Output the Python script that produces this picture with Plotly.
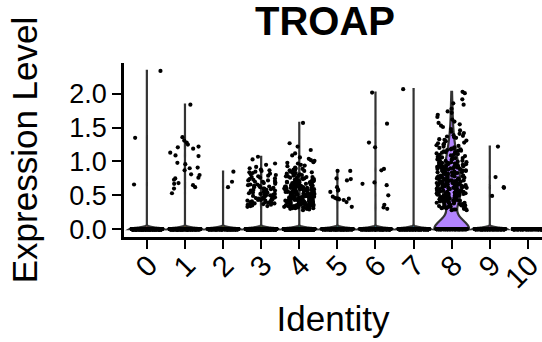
import numpy as np
import plotly.graph_objects as go

# ---------------- data ----------------
identities = ["0", "1", "2", "3", "4", "5", "6", "7", "8", "9", "10"]
gene = "TROAP"

# number of cells with zero expression in each identity (estimated)
zero_counts = [600, 500, 400, 800, 1500, 400, 400, 400, 185, 300, 250]

# non-zero expression values per identity
c0_nz = [2.34, 1.35, 0.66]
c1_nz = [1.84, 1.36, 1.31, 1.28, 1.25, 1.22, 1.21, 1.19, 1.13, 1.09, 1.08, 0.98, 0.96,
         0.91, 0.90, 0.87, 0.81, 0.80, 0.76, 0.75, 0.73, 0.68, 0.67, 0.65, 0.62, 0.60, 0.53]
c2_nz = [0.85, 0.70, 0.62]
c3_nz = [1.07, 1.03, 0.97, 0.95, 0.92, 0.90, 0.88, 0.87, 0.86, 0.85, 0.84, 0.83, 0.82,
         0.81, 0.80, 0.79, 0.78, 0.77, 0.76, 0.75, 0.74, 0.73, 0.72, 0.72, 0.71, 0.70,
         0.70, 0.69, 0.68, 0.67, 0.66, 0.66, 0.65, 0.64, 0.64, 0.63, 0.62, 0.62, 0.61,
         0.60, 0.60, 0.59, 0.58, 0.58, 0.57, 0.57, 0.56, 0.55, 0.55, 0.54, 0.54, 0.53,
         0.52, 0.52, 0.51, 0.51, 0.50, 0.50, 0.49, 0.48, 0.48, 0.47, 0.47, 0.46, 0.46,
         0.45, 0.45, 0.44, 0.44, 0.43, 0.43, 0.42, 0.42, 0.41, 0.41, 0.40, 0.40, 0.39,
         0.39, 0.38, 0.38, 0.37, 0.37, 0.36, 0.36, 0.35, 0.35, 0.34, 0.34, 0.33]
c4_nz = [1.57, 1.27, 1.22, 1.17, 1.12, 1.09, 1.06, 1.04, 1.02, 1.01,
         0.99, 0.98, 0.97, 0.95, 0.94, 0.93, 0.91, 0.90,
         0.89, 0.88, 0.88, 0.87, 0.86, 0.86, 0.85, 0.84, 0.83, 0.83, 0.82, 0.81, 0.81, 0.80,
         0.79, 0.79, 0.78, 0.78, 0.77, 0.77, 0.76, 0.76, 0.75, 0.75, 0.74, 0.74, 0.73,
         0.73, 0.72, 0.72, 0.71, 0.71, 0.71, 0.70, 0.70, 0.70,
         0.69, 0.69, 0.69, 0.68, 0.68, 0.68, 0.67, 0.67, 0.67, 0.66, 0.66, 0.66, 0.65,
         0.65, 0.65, 0.64, 0.64, 0.64, 0.63, 0.63, 0.63, 0.62, 0.62, 0.62, 0.61, 0.61,
         0.61, 0.60, 0.60, 0.60,
         0.59, 0.59, 0.59, 0.59, 0.58, 0.58, 0.58, 0.58, 0.58, 0.57, 0.57, 0.57, 0.57,
         0.56, 0.56, 0.56, 0.56, 0.55, 0.55, 0.55, 0.55, 0.55, 0.54, 0.54, 0.54, 0.54,
         0.53, 0.53, 0.53, 0.53, 0.53, 0.52, 0.52, 0.52, 0.52, 0.52, 0.51, 0.51, 0.51,
         0.51, 0.51, 0.50, 0.50, 0.50, 0.50,
         0.49, 0.49, 0.49, 0.49, 0.49, 0.48, 0.48, 0.48, 0.48, 0.48, 0.48, 0.47, 0.47,
         0.47, 0.47, 0.47, 0.46, 0.46, 0.46, 0.46, 0.46, 0.46, 0.45, 0.45, 0.45, 0.45,
         0.45, 0.44, 0.44, 0.44, 0.44, 0.44, 0.44, 0.43, 0.43, 0.43, 0.43, 0.43, 0.42,
         0.42, 0.42, 0.42, 0.42, 0.42, 0.41, 0.41, 0.41, 0.41, 0.41, 0.41, 0.40, 0.40,
         0.40, 0.40, 0.40,
         0.39, 0.39, 0.39, 0.39, 0.38, 0.38, 0.38, 0.38, 0.37, 0.37, 0.37, 0.37, 0.36,
         0.36, 0.36, 0.36, 0.35, 0.35, 0.35, 0.35, 0.34, 0.34, 0.34, 0.34, 0.33, 0.33,
         0.33, 0.33, 0.32, 0.32, 0.32, 0.32, 0.31, 0.31, 0.31, 0.30, 0.30, 0.30, 0.29, 0.28]
c5_nz = [0.86, 0.86, 0.75, 0.74, 0.72, 0.62, 0.58, 0.57, 0.55, 0.48, 0.46, 0.45, 0.45,
         0.45, 0.44, 0.43, 0.40, 0.33]
c6_nz = [2.02, 1.56, 1.28, 1.21, 0.89, 0.87, 0.69, 0.67, 0.65, 0.50, 0.36, 0.32, 0.30]
c7_nz = [2.07]
c8_nz = [2.03, 2.01, 1.92, 1.86, 1.84,
         1.78, 1.74, 1.72, 1.69, 1.66, 1.62,
         1.59, 1.57, 1.55, 1.53, 1.51, 1.48, 1.46, 1.44, 1.42, 1.41,
         1.39, 1.38, 1.37, 1.36, 1.35, 1.33, 1.32, 1.31, 1.30, 1.28, 1.27, 1.26, 1.25,
         1.24, 1.23, 1.22, 1.21, 1.20,
         1.19, 1.19, 1.18, 1.18, 1.17, 1.16, 1.16, 1.15, 1.14, 1.14, 1.13, 1.12, 1.12,
         1.11, 1.10, 1.10, 1.09, 1.08, 1.08, 1.07, 1.06, 1.06, 1.05, 1.05, 1.04, 1.03,
         1.03, 1.02, 1.02, 1.01, 1.01, 1.00,
         0.99, 0.99, 0.98, 0.98, 0.98, 0.97, 0.97, 0.96, 0.96, 0.96, 0.95, 0.95, 0.94,
         0.94, 0.94, 0.93, 0.93, 0.92, 0.92, 0.92, 0.91, 0.91, 0.90, 0.90, 0.90, 0.89,
         0.89, 0.88, 0.88, 0.88, 0.87, 0.87, 0.86, 0.86, 0.86, 0.85, 0.85, 0.84, 0.84,
         0.84, 0.83, 0.83, 0.82, 0.82, 0.82, 0.81, 0.81, 0.80, 0.80,
         0.79, 0.79, 0.79, 0.78, 0.78, 0.78, 0.77, 0.77, 0.77, 0.76, 0.76, 0.76, 0.75,
         0.75, 0.75, 0.74, 0.74, 0.74, 0.73, 0.73, 0.73, 0.72, 0.72, 0.72, 0.71, 0.71,
         0.71, 0.70, 0.70, 0.70, 0.69, 0.69, 0.69, 0.68, 0.68, 0.68, 0.67, 0.67, 0.67,
         0.66, 0.66, 0.66, 0.65, 0.65, 0.65, 0.64, 0.64, 0.64, 0.63, 0.63, 0.63, 0.62,
         0.62, 0.62, 0.61, 0.61, 0.61, 0.60, 0.60, 0.60,
         0.59, 0.59, 0.59, 0.58, 0.58, 0.58, 0.57, 0.57, 0.57, 0.56, 0.56, 0.56, 0.55,
         0.55, 0.55, 0.54, 0.54, 0.54, 0.53, 0.53, 0.53, 0.52, 0.52, 0.52, 0.51, 0.51,
         0.51, 0.50, 0.50, 0.50, 0.49, 0.49, 0.49, 0.48, 0.48, 0.48, 0.47, 0.47, 0.47,
         0.46, 0.46, 0.46, 0.45, 0.45, 0.45, 0.44, 0.44, 0.44, 0.43, 0.43, 0.43, 0.42,
         0.42, 0.42, 0.41, 0.41, 0.41, 0.40, 0.40, 0.40, 0.47, 0.52,
         0.39, 0.39, 0.38, 0.38, 0.37, 0.37, 0.36, 0.36, 0.35, 0.35, 0.34, 0.34, 0.33,
         0.33, 0.32, 0.32, 0.31, 0.31, 0.30, 0.30, 0.29, 0.29, 0.28, 0.28]
c9_nz = [1.22, 0.77, 0.62, 0.61, 0.49]
c10_nz = []

nonzero_values = [c0_nz, c1_nz, c2_nz, c3_nz, c4_nz, c5_nz, c6_nz, c7_nz, c8_nz, c9_nz, c10_nz]

# ---------------- style ----------------
fill_colors = ["#F8766D", "#DB8E00", "#AEA200", "#64B200", "#00BD5C", "#00C1A7",
               "#00BADE", "#00A6FF", "#B385FF", "#EF67EB", "#FF63B6"]
kde_bw = [0.02, 0.02, 0.02, 0.02, 0.02, 0.02, 0.02, 0.02, 0.13, 0.02, 0.02]
FONT = "Liberation Sans, Arial, Helvetica, sans-serif"

fig = go.Figure()

rng = np.random.default_rng(11)
px_list, py_list = [], []
for i, (name, n0, nz) in enumerate(zip(identities, zero_counts, nonzero_values)):
    vals = [0.0] * n0 + list(nz)
    if max(vals) > min(vals):
        fig.add_trace(go.Violin(
            x=[i] * len(vals), y=vals, name=name,
            width=0.92, scalemode="width", spanmode="hard", bandwidth=kde_bw[i],
            points=False, box_visible=False, meanline_visible=False,
            line=dict(color="#333333", width=2.2),
            fillcolor=fill_colors[i], opacity=1, showlegend=False, hoverinfo="skip",
        ))
    jit = rng.uniform(-0.4, 0.4, size=len(vals))
    px_list.extend((i + jit).tolist())
    py_list.extend(vals)

fig.add_trace(go.Scatter(
    x=px_list, y=py_list, mode="markers",
    marker=dict(color="black", size=4.2, line=dict(width=0)),
    showlegend=False, hoverinfo="skip",
))

fig.update_layout(
    width=542, height=342,
    margin=dict(l=124, r=0, t=63, b=105, autoexpand=False),
    plot_bgcolor="white", paper_bgcolor="white",
    showlegend=False, violinmode="overlay",
    title=dict(text="<b>" + gene + "</b>", x=325 / 542, xanchor="center", xref="container",
               y=1 - 21 / 342, yanchor="middle", yref="container",
               font=dict(family=FONT, size=40, color="black")),
    font=dict(family=FONT, color="black"),
)
fig.update_xaxes(
    automargin=False,
    range=[-0.6, 10.37], tickmode="array", tickvals=list(range(len(identities))),
    ticktext=identities, tickangle=-45, ticks="outside", ticklen=9, tickwidth=2,
    tickcolor="black", showline=True, linecolor="black", linewidth=2.5,
    ticklabeloverflow="allow", ticklabelstandoff=-12, ticklabelshift=2,
    showgrid=False, zeroline=False, tickfont=dict(family=FONT, size=29, color="black"),
    title=dict(text="Identity", font=dict(family=FONT, size=35, color="black"), standoff=14),
)
fig.update_yaxes(
    automargin=False,
    range=[-0.117, 2.457], tickmode="array", tickvals=[0, 0.5, 1.0, 1.5, 2.0],
    ticktext=["0.0", "0.5", "1.0", "1.5", "2.0"], ticks="outside", ticklen=9, tickwidth=2,
    tickcolor="black", showline=True, linecolor="black", linewidth=2.5,
    showgrid=False, zeroline=False, tickfont=dict(family=FONT, size=27, color="black"),
    title=dict(text="Expression Level", font=dict(family=FONT, size=35, color="black"), standoff=22),
)

fig.write_html("out.html", config={"displayModeBar": False},
               post_script="document.body.style.margin='0px';")
